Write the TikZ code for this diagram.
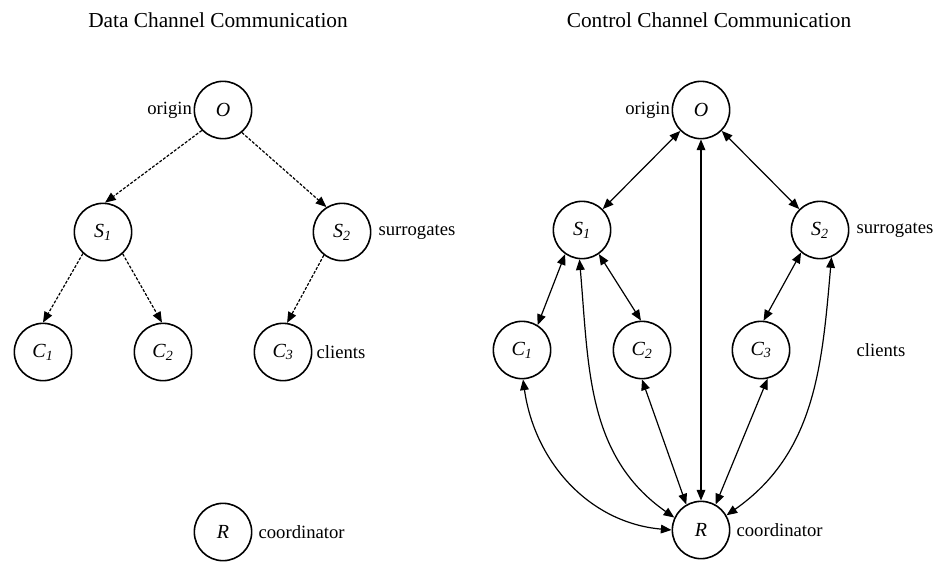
\documentclass[tikz,border=0pt]{standalone}
\usepackage{fontspec}
\setmainfont{Liberation Serif}
\usetikzlibrary{arrows.meta}
\begin{document}
\begin{tikzpicture}[x=0.75pt,y=-0.75pt,
  peer/.style={circle,draw,line width=1.2pt,minimum size=43pt,inner sep=0pt,
    font=\fontsize{15}{17}\selectfont\itshape},
  lbl/.style={inner sep=1pt,font=\fontsize{14}{16}\selectfont},
  ttl/.style={inner sep=0pt,font=\fontsize{16}{19}\selectfont},
  data/.style={line width=0.9pt,dash pattern=on 2.2pt off 1.2pt,
    -{Triangle[length=8pt,width=6.5pt]}},
  ctrl/.style={line width=0.9pt,
    {Triangle[length=8pt,width=6.5pt]}-{Triangle[length=8pt,width=6.5pt]}}]
\useasboundingbox (0,0) rectangle (939,561);

% ---- data channel ----
\node[ttl] (t1) at (218,20) {Data Channel Communication};
\node[peer] (O)  at (223,110) {O};
\node[peer] (S1) at (103,232) {S\textsubscript{1}};
\node[peer] (S2) at (342,232) {S\textsubscript{2}};
\node[peer] (C1) at (43,352)  {C\textsubscript{1}};
\node[peer] (C2) at (163,352) {C\textsubscript{2}};
\node[peer] (C3) at (283,352) {C\textsubscript{3}};
\node[peer] (R)  at (223,532) {R};
\node[lbl,anchor=east] (lo) at (O.west) {origin};
\node[lbl,anchor=west] (ls) at (377,232) {surrogates};
\node[lbl,anchor=west] (lc) at (315,352) {clients};
\node[lbl,anchor=west] (lr) at (257,532) {coordinator};

\draw[data] (O.224) -- (S1.86);
\draw[data] (O.-50) -- (S2.122);
\draw[data] (S1.-133) -- (C1.90);
\draw[data] (S1.-48) -- (C2.92);
\draw[data] (S2.-128) -- (C3.82);

% ---- control channel ----
\node[ttl] (t2) at (709,20) {Control Channel Communication};
\node[peer] (PO)  at (701,110) {O};
\node[peer] (PS1) at (582,230) {S\textsubscript{1}};
\node[peer] (PS2) at (820,230) {S\textsubscript{2}};
\node[peer] (PC1) at (522,350) {C\textsubscript{1}};
\node[peer] (PC2) at (642,350) {C\textsubscript{2}};
\node[peer] (PC3) at (761,350) {C\textsubscript{3}};
\node[peer] (PR)  at (701,530) {R};
\node[lbl,anchor=east] (plo) at (PO.west) {origin};
\node[lbl,anchor=west] (pls) at (855,230) {surrogates};
\node[lbl,anchor=west] (plc) at (855,350) {clients};
\node[lbl,anchor=west] (plr) at (735,530) {coordinator};

\draw[ctrl] (PO) -- (PS1);
\draw[ctrl] (PO) -- (PS2);
\draw[ctrl] (PO) -- (PR);
\draw[ctrl] (PS1.-125) -- (PC1.58);
\draw[ctrl] (PS1.-55) -- (PC2.92);
\draw[ctrl] (PS2.-130) -- (PC3.85);
\draw[ctrl] (PC1.-88) to[out=-82,in=175] (PR.180);
\draw[ctrl] (PS1.-95) to[out=-85,in=145] (PR.155);
\draw[ctrl] (PC2.-90) -- (PR.120);
\draw[ctrl] (PC3.-77) -- (PR.60);
\draw[ctrl] (PS2.-67) to[out=-95,in=35] (PR.30);
\end{tikzpicture}
\end{document}
